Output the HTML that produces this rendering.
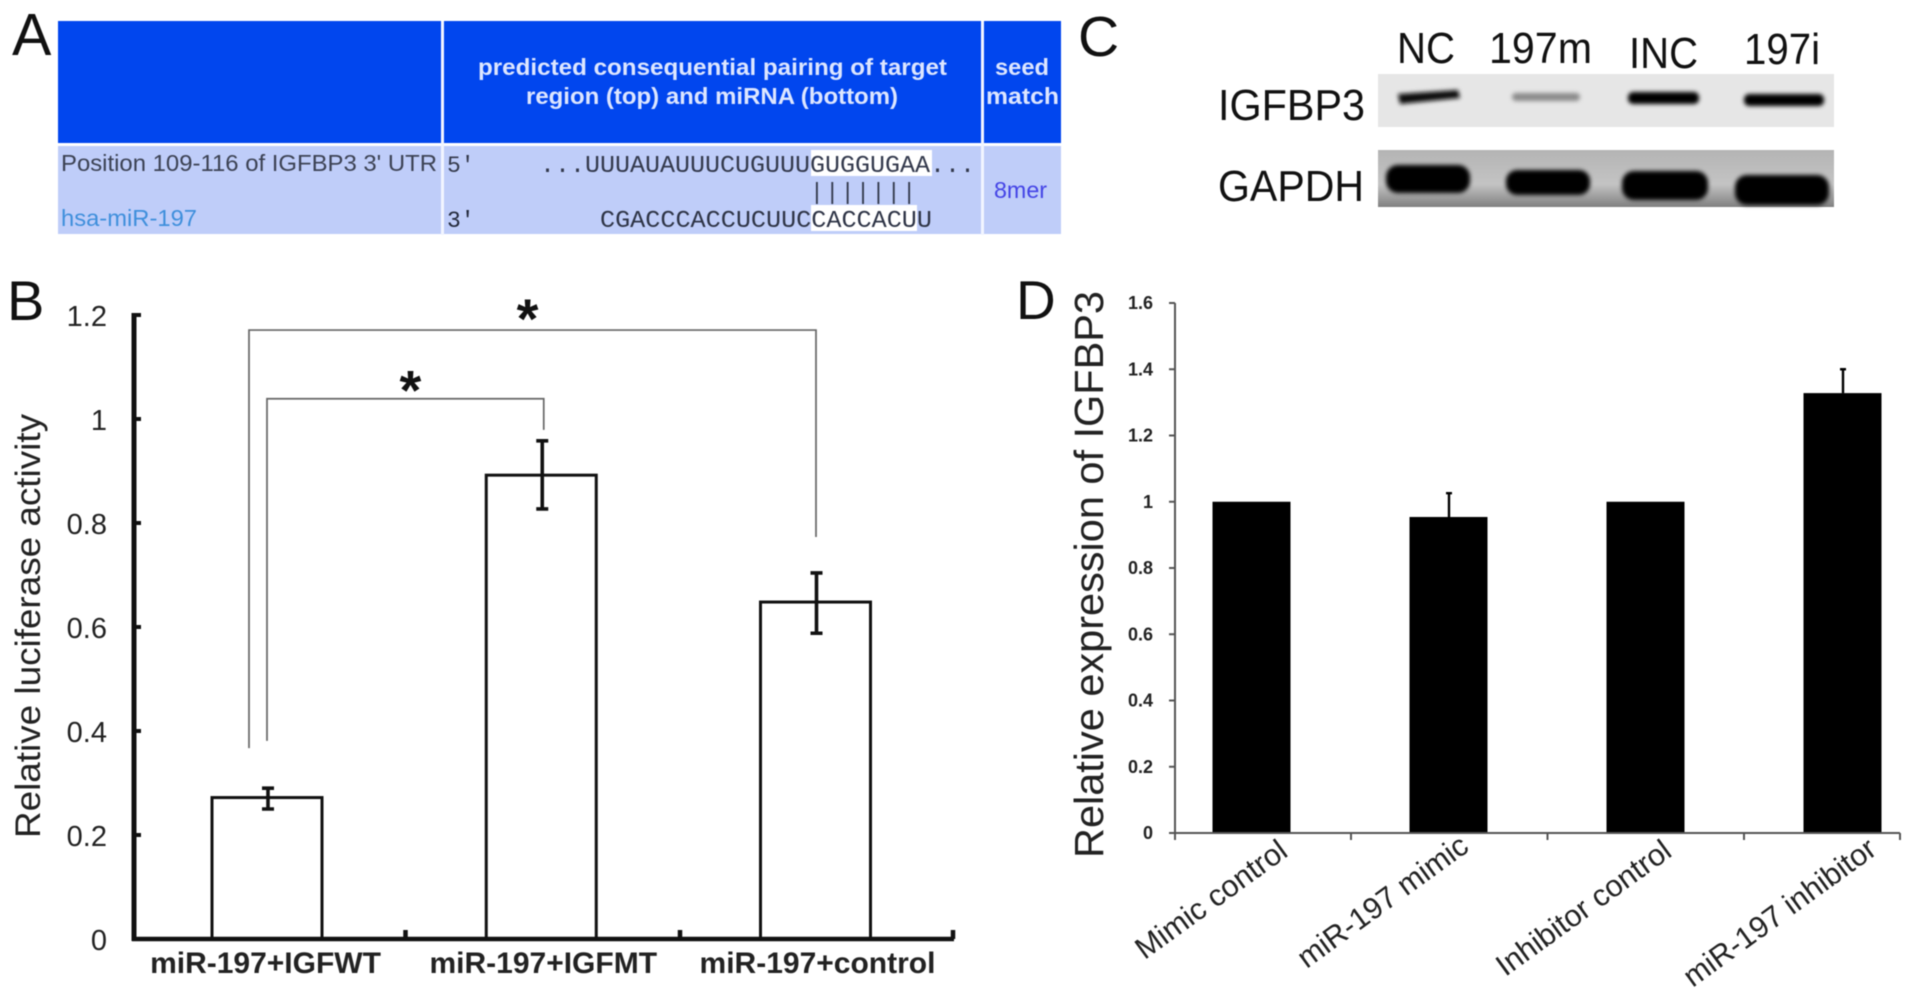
<!DOCTYPE html>
<html lang="en">
<head>
<meta charset="utf-8">
<title>miR-197 and IGFBP3 figure</title>
<style>
html,body{margin:0;padding:0;background:#fff;width:1913px;height:996px;overflow:hidden}
svg{display:block;position:absolute;left:0;top:0;filter:blur(.5px)}
text{font-family:"Liberation Sans",Arial,sans-serif}
</style>
</head>
<body>
<svg id="fig" xmlns="http://www.w3.org/2000/svg" width="1913" height="996" viewBox="0 0 1913 996">
  <defs>
    <filter id="b2" x="-20%" y="-60%" width="140%" height="220%"><feGaussianBlur stdDeviation="2"/></filter>
    <filter id="b3" x="-20%" y="-60%" width="140%" height="220%"><feGaussianBlur stdDeviation="3"/></filter>
    <linearGradient id="gel" x1="0" y1="0" x2="0" y2="1"><stop offset="0" stop-color="#b4b4b4"/><stop offset=".6" stop-color="#c4c4c4"/><stop offset="1" stop-color="#808080"/></linearGradient>
  </defs>

  <!-- Panel A -->
  <g>
    <text x="12" y="55" font-size="59" fill="#111">A</text>
    <g>
      <rect x="58" y="21" width="1003" height="122" fill="#0146ee"/>
      <rect x="58" y="146" width="1003" height="88" fill="#bfcdf9"/>
      <rect x="441" y="21" width="3" height="214" fill="#f2f5ff"/>
      <rect x="981" y="21" width="3" height="214" fill="#f2f5ff"/>
      <text x="478" y="75" font-size="23" font-weight="700" fill="#dde6ff" textLength="469" lengthAdjust="spacingAndGlyphs">predicted consequential pairing of target</text>
      <text x="526" y="104" font-size="23" font-weight="700" fill="#dde6ff" textLength="372" lengthAdjust="spacingAndGlyphs">region (top) and miRNA (bottom)</text>
      <text x="995" y="75" font-size="23" font-weight="700" fill="#dde6ff" textLength="54" lengthAdjust="spacingAndGlyphs">seed</text>
      <text x="986" y="104" font-size="23" font-weight="700" fill="#dde6ff" textLength="73" lengthAdjust="spacingAndGlyphs">match</text>
      <text x="61" y="171" font-size="23" fill="#3c4254" textLength="376" lengthAdjust="spacingAndGlyphs">Position 109-116 of IGFBP3 3' UTR</text>
      <text x="61" y="226" font-size="23" fill="#3f8fdc" textLength="136" lengthAdjust="spacingAndGlyphs">hsa-miR-197</text>
      <rect x="811" y="150" width="121" height="26" fill="#fff"/>
      <rect x="811" y="205" width="106" height="26" fill="#fff"/>
      <text x="447" y="172" style="font-family:'Liberation Mono',monospace" font-size="23" fill="#33384a">5'</text>
      <text x="447" y="227" style="font-family:'Liberation Mono',monospace" font-size="23" fill="#22283a">3'</text>
      <text x="540" y="172" style="font-family:'Liberation Mono',monospace" font-size="24" fill="#33394c" textLength="435" lengthAdjust="spacingAndGlyphs">...UUUAUAUUUCUGUUUGUGGUGAA...</text>
      <text x="810" y="199" style="font-family:'Liberation Mono',monospace" font-size="23" fill="#333a4c" textLength="106" lengthAdjust="spacing">|||||||</text>
      <text x="600" y="227" style="font-family:'Liberation Mono',monospace" font-size="24" fill="#2e3446" textLength="332" lengthAdjust="spacingAndGlyphs">CGACCCACCUCUUCCACCACUU</text>
      <text x="994" y="198" font-size="23" fill="#4444e6" textLength="53" lengthAdjust="spacingAndGlyphs">8mer</text>
    </g>
  </g>

  <!-- Panel C -->
  <g>
    <text x="1078" y="56" font-size="57" fill="#111">C</text>
    <text x="1397" y="63" font-size="44" fill="#111" textLength="58" lengthAdjust="spacingAndGlyphs">NC</text>
    <text x="1489" y="63" font-size="44" fill="#111" textLength="103" lengthAdjust="spacingAndGlyphs">197m</text>
    <text x="1629" y="68" font-size="44" fill="#111" textLength="69" lengthAdjust="spacingAndGlyphs">INC</text>
    <text x="1744" y="64" font-size="44" fill="#111" textLength="76" lengthAdjust="spacingAndGlyphs">197i</text>
    <text x="1218" y="120" font-size="44" fill="#111" textLength="147" lengthAdjust="spacingAndGlyphs">IGFBP3</text>
    <text x="1218" y="201" font-size="44" fill="#111" textLength="146" lengthAdjust="spacingAndGlyphs">GAPDH</text>
    <g>
      <rect x="1378" y="74" width="456" height="53" fill="#e6e6e6"/>
      <path d="M1398 94 L1458 90 L1460 98 L1400 104 Z" fill="#111" filter="url(#b2)"/>
      <rect x="1512" y="93" width="68" height="8" rx="4" fill="#8a8a8a" filter="url(#b2)"/>
      <rect x="1628" y="92" width="71" height="12" rx="5" fill="#060606" filter="url(#b2)"/>
      <rect x="1744" y="94" width="80" height="12" rx="5" fill="#060606" filter="url(#b2)"/>
    </g>
    <g>
      <rect x="1378" y="150" width="456" height="57" fill="url(#gel)"/>
      <rect x="1386" y="165" width="84" height="28" rx="12" fill="#000" filter="url(#b2)"/>
      <rect x="1506" y="170" width="84" height="25" rx="11" fill="#000" filter="url(#b2)"/>
      <rect x="1622" y="171" width="86" height="29" rx="12" fill="#000" filter="url(#b2)"/>
      <rect x="1735" y="175" width="94" height="30" rx="12" fill="#000" filter="url(#b2)"/>
    </g>
  </g>

  <text x="7" y="320" font-size="56" fill="#111">B</text>
  <text x="1016" y="319" font-size="55" fill="#111">D</text>
  <g id="chartB"></g>
  <g id="chartD"></g>
</svg>

<script>
// Panel B data
const bCategories = ["miR-197+IGFWT", "miR-197+IGFMT", "miR-197+control"];
const bValues = [0.272, 0.892, 0.648];
const bErrUpper = [0.29, 0.958, 0.704];
const bErrLower = [0.25, 0.827, 0.588];
const bTicks = [0, 0.2, 0.4, 0.6, 0.8, 1, 1.2];
const bTickLabels = ["0", "0.2", "0.4", "0.6", "0.8", "1", "1.2"];
const bBracketLevels = [1.171, 1.039];
const bBracketLeftEnds = [0.367, 0.381];
const bBracketRightEnds = [0.773, 0.979];
const bBracketTargets = [2, 1];

// Panel D data
const dCategories = ["Mimic control", "miR-197 mimic", "Inhibitor control", "miR-197 inhibitor"];
const dValues = [1, 0.954, 1, 1.328];
const dErrUpper = [1, 1.026, 1, 1.4];
const dTicks = [0, 0.2, 0.4, 0.6, 0.8, 1, 1.2, 1.4, 1.6];
const dTickLabels = ["0", "0.2", "0.4", "0.6", "0.8", "1", "1.2", "1.4", "1.6"];

const SVGNS = "http://www.w3.org/2000/svg";
function mk(parent, tag, attrs, txt) {
  const el = document.createElementNS(SVGNS, tag);
  for (const k in attrs) el.setAttribute(k, attrs[k]);
  if (txt !== undefined) el.textContent = txt;
  parent.appendChild(el);
  return el;
}

// ---------- Chart B ----------
(function () {
  const g = document.getElementById("chartB");
  const y0 = 939, pxPerUnit = 520;
  const yB = v => y0 - v * pxPerUnit;
  const xB = i => 267 + 274.25 * i;
  const barW = 110, ink = "#111";
  const labelNudge = [-1.5, 2, 2];

  bCategories.forEach((cat, i) => {
    const bar = mk(g, "rect", { x: xB(i) - barW / 2, y: yB(bValues[i]), width: barW, height: y0 - yB(bValues[i]), fill: "#fff", stroke: ink, "stroke-width": 3 });
    
    

    const cx = xB(i) + 1;
    const err = mk(g, "path", {
      d: `M${cx} ${yB(bErrUpper[i])}V${yB(bErrLower[i])}M${cx - 6} ${yB(bErrUpper[i])}h12M${cx - 6} ${yB(bErrLower[i])}h12`,
      fill: "none", stroke: ink, "stroke-width": 3.6
    });
    
    

    const lab = mk(g, "text", { x: xB(i) + labelNudge[i], y: 973, "font-size": 30, "font-weight": 700, fill: "#222", "text-anchor": "middle" }, cat);
    
    
  });

  const yAxis = mk(g, "path", { d: `M134 ${yB(1.2) - 2}V${y0 + 2}`, stroke: ink, "stroke-width": 5, fill: "none" });
  
  

  const xAxis = mk(g, "path", { d: `M132 ${y0}H954M405.5 ${y0}v-9M680 ${y0}v-9M953 ${y0}v-9`, stroke: ink, "stroke-width": 4.5, fill: "none" });
  
  

  bTicks.forEach((t, i) => {
    const tick = mk(g, "line", { x1: 134, x2: 141, y1: yB(t), y2: yB(t), stroke: ink, "stroke-width": 4 });
    
    

    const lab = mk(g, "text", { x: 107, y: yB(t) + 11, "font-size": 29, fill: "#222", "text-anchor": "end" }, bTickLabels[i]);
    
    
  });

  const title = mk(g, "text", { transform: "translate(40 838) rotate(-90)", "font-size": 35, fill: "#222", textLength: 424, lengthAdjust: "spacingAndGlyphs" }, "Relative luciferase activity");
  
  

  const offsets = [[-18, 0.5], [0, 2.5]];
  bBracketLevels.forEach((lvl, i) => {
    const xl = xB(0) + offsets[i][0], xr = xB(bBracketTargets[i]) + offsets[i][1];
    const br = mk(g, "path", {
      d: `M${xl} ${yB(bBracketLeftEnds[i])}V${yB(lvl)}H${xr}V${yB(bBracketRightEnds[i])}`,
      fill: "none", stroke: "#666", "stroke-width": 1.7
    });
    
    

    const star = mk(g, "text", { x: (xl + xr) / 2 + (i === 0 ? -5 : 5), y: yB(lvl) + (i === 0 ? 8 : 11), "font-size": 56, "font-weight": 700, fill: "#111", "text-anchor": "middle" }, "*");
    
    
  });
})();

// ---------- Chart D ----------
(function () {
  const g = document.getElementById("chartD");
  const y0 = 833, pxPerUnit = 331.25;
  const yD = v => y0 - v * pxPerUnit;
  const xD = i => 1251.5 + 197 * i;
  const barW = 78, ink = "#111";
  const axisX = 1175, axisEnd = 1900;

  const labelNudgeX = [38, 22, 28, 36];
  const labelAnchorY = [855, 850, 855, 853];
  dCategories.forEach((cat, i) => {
    const bar = mk(g, "rect", { x: xD(i) - barW / 2, y: yD(dValues[i]), width: barW, height: y0 - yD(dValues[i]), fill: "#000" });
    
    

    if (dErrUpper[i] > dValues[i]) {
      const cx = xD(i) + 0.5;
      const err = mk(g, "path", { d: `M${cx} ${yD(dValues[i])}V${yD(dErrUpper[i])}M${cx - 3} ${yD(dErrUpper[i])}h6`, fill: "none", stroke: "#000", "stroke-width": 2.4 });
      
      
    }

    const ax = xD(i) + labelNudgeX[i];
    const lab = mk(g, "text", { transform: `translate(${ax} ${labelAnchorY[i]}) rotate(-36)`, "font-size": 30.4, fill: "#222", "text-anchor": "end" }, cat);
    
    
  });

  const yAxis = mk(g, "line", { x1: axisX, x2: axisX, y1: yD(1.6), y2: y0, stroke: "#555", "stroke-width": 2 });
  
  

  const xAxis = mk(g, "line", { x1: axisX - 6, x2: axisEnd, y1: y0, y2: y0, stroke: "#555", "stroke-width": 2 });
  
  

  const dividers = [axisX, xD(0) + 99.5, xD(1) + 99, xD(2) + 98.5, axisEnd];
  dividers.forEach(x => {
    const tk = mk(g, "line", { x1: x, x2: x, y1: y0, y2: y0 + 7, stroke: "#555", "stroke-width": 2 });
    
    
  });

  dTicks.forEach((t, i) => {
    const tick = mk(g, "line", { x1: axisX - 6, x2: axisX, y1: yD(t), y2: yD(t), stroke: "#555", "stroke-width": 2 });
    
    

    const lab = mk(g, "text", { x: 1153, y: yD(t) + 6, "font-size": 18, "font-weight": 700, fill: "#222", "text-anchor": "end" }, dTickLabels[i]);
    
    
  });

  const title = mk(g, "text", { transform: "translate(1103 858) rotate(-90)", "font-size": 41, fill: "#222", textLength: 567, lengthAdjust: "spacingAndGlyphs" }, "Relative expression of IGFBP3");
  
  
})();
</script>
</body>
</html>
